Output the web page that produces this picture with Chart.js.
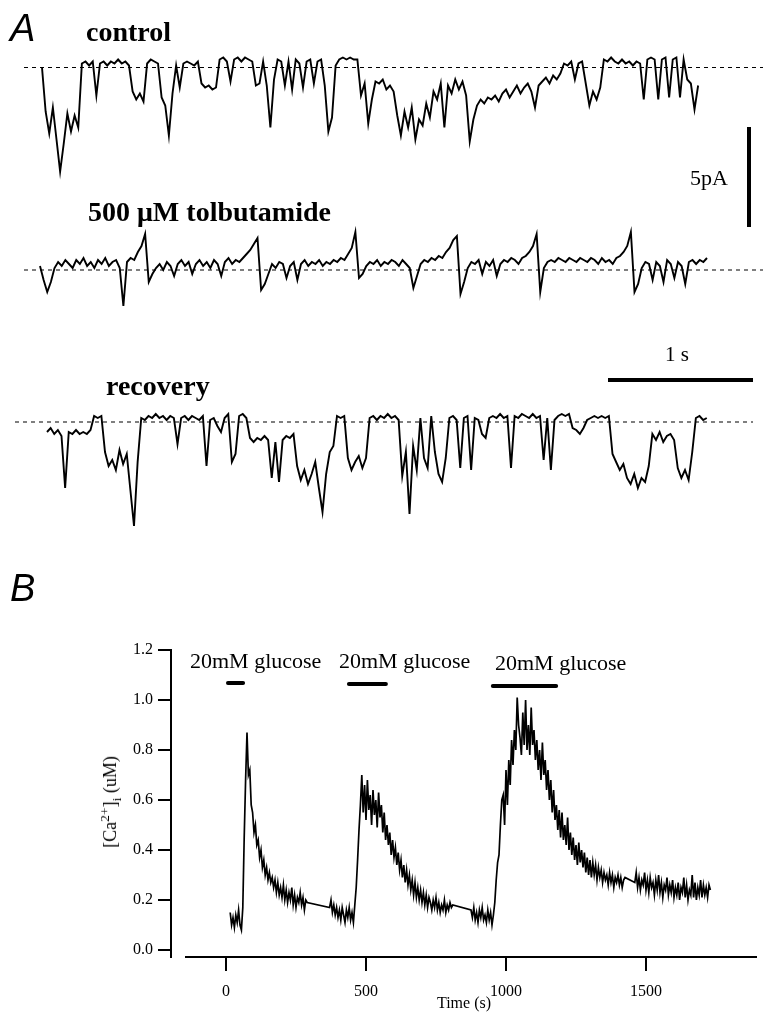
<!DOCTYPE html>
<html>
<head>
<meta charset="utf-8">
<script src="https://cdn.jsdelivr.net/npm/chart.js@4.4.1/dist/chart.umd.min.js"></script>
<style>
body{margin:0;background:#fff;width:763px;height:1013px;position:relative;overflow:hidden;font-family:"Liberation Serif",serif;color:#000}
canvas{position:absolute;left:0}
.lbl{position:absolute;white-space:nowrap;line-height:1}
.sans{font-family:"Liberation Sans",sans-serif;font-style:italic}
.bold{font-weight:bold}
#ytitle{position:absolute;left:110px;top:802px;font-size:18px;white-space:nowrap;line-height:1;transform:translate(-50%,-50%) rotate(-90deg)}
#ytitle sup,#ytitle sub{font-size:0.75em;line-height:0}
</style>
</head>
<body>
<canvas id="controlChart" width="763" height="195" style="top:40px"></canvas>
<canvas id="tolbChart" width="763" height="130" style="top:200px"></canvas>
<canvas id="recoveryChart" width="763" height="200" style="top:340px"></canvas>
<canvas id="caChart" width="763" height="413" style="top:600px"></canvas>

<div class="lbl sans" style="left:10px;top:9px;font-size:38px">A</div>
<div class="lbl bold" style="left:86px;top:18px;font-size:28px">control</div>
<div class="lbl bold" style="left:88px;top:198px;font-size:28px">500 μM tolbutamide</div>
<div class="lbl bold" style="left:106px;top:372px;font-size:28px">recovery</div>
<div class="lbl" style="left:690px;top:167px;font-size:22px">5pA</div>
<div class="lbl" style="left:665px;top:344px;font-size:21px">1 s</div>
<div class="lbl sans" style="left:10px;top:569px;font-size:38px">B</div>
<div class="lbl" style="left:190px;top:650px;font-size:22px">20mM glucose</div>
<div class="lbl" style="left:339px;top:650px;font-size:22px">20mM glucose</div>
<div class="lbl" style="left:495px;top:652px;font-size:22px">20mM glucose</div>
<div id="ytitle">[Ca<sup>2+</sup>]<sub>i</sub> (uM)</div>

<script>
// panel A: single channel currents (pA), sampled every 0.025 s
const sampleStep=0.025;

const controlCurrent=[
0.0,-2.2,-3.3,-2.0,-3.6,-5.2,-3.8,-2.3,-3.2,-2.4,
-3.0,0.2,0.3,0.1,0.3,-1.4,0.2,0.3,0.1,0.3,
0.2,0.4,0.2,0.3,0.1,-1.2,-1.6,-1.3,-1.7,0.2,
0.4,0.3,0.2,-1.5,-1.9,-3.4,-1.3,0.1,-1.0,0.2,
0.3,0.2,0.1,0.3,-0.8,-1.0,-0.9,-1.1,-1.0,0.4,
0.5,0.3,-0.7,0.4,0.5,0.3,0.5,0.4,0.3,-0.9,
-0.8,0.3,-0.9,-3.0,-0.6,0.4,0.3,-0.9,0.3,-1.1,
0.4,0.2,-1.0,0.3,0.4,-0.8,0.3,0.4,-0.9,-3.2,
-2.5,0.1,0.4,0.5,0.4,0.5,0.4,0.4,-1.4,-0.8,
-2.8,-1.6,-0.7,-0.8,-0.6,-1.1,-0.9,-1.2,-2.4,-3.4,
-2.2,-3.0,-2.0,-3.6,-2.6,-2.9,-1.8,-2.5,-1.2,-1.6,
-0.8,-3.0,-0.9,-1.3,-0.6,-1.1,-0.7,-1.4,-3.7,-2.6,
-1.9,-1.6,-1.8,-1.5,-1.6,-1.4,-1.7,-1.3,-1.1,-1.5,
-1.2,-0.9,-1.3,-1.0,-0.8,-1.2,-2.0,-0.9,-0.7,-0.5,
-0.8,-0.4,-0.6,-0.3,0.2,0.1,0.3,-0.6,0.2,0.3,
-0.8,-1.9,-1.2,-1.6,-1.0,0.4,0.3,0.5,0.3,0.2,
0.4,0.2,0.3,0.1,0.3,0.2,-1.6,0.4,0.5,0.4,
-1.6,0.4,0.5,-1.5,0.4,0.5,-1.5,0.4,-0.6,-0.8,
-2.1,-0.9];

const tolbutamideCurrent=[
0.2,-0.5,-1.1,-0.6,0.1,0.4,0.2,0.5,0.3,0.1,
0.5,0.3,0.6,0.2,0.4,0.1,0.5,0.3,0.6,0.2,
0.4,0.5,0.1,-1.8,0.4,0.6,0.5,0.9,1.2,1.8,
-0.6,-0.2,0.1,0.3,0.0,0.4,0.2,-0.3,0.3,0.5,
0.2,0.4,-0.2,0.3,0.5,0.2,0.4,0.1,0.5,0.3,
-0.3,0.4,0.6,0.3,0.5,0.4,0.6,0.8,1.0,1.3,
1.6,-1.0,-0.7,-0.2,0.3,0.1,0.4,0.3,-0.4,0.2,
0.4,-0.5,0.3,0.5,0.2,0.4,0.3,0.5,0.2,0.4,
0.3,0.5,0.4,0.6,0.5,0.8,1.1,1.9,-0.4,-0.2,
0.2,0.4,0.3,0.5,0.2,0.4,0.3,0.5,0.4,0.2,
0.5,0.3,0.1,-0.9,-0.3,0.3,0.5,0.4,0.6,0.5,
0.7,0.6,0.9,1.1,1.5,1.7,-1.2,-0.6,0.1,0.4,
0.3,0.5,-0.2,0.4,0.2,0.5,-0.3,0.3,0.5,0.4,
0.6,0.5,0.3,0.6,0.7,0.9,1.2,1.8,-1.1,0.1,
0.4,0.5,0.4,0.6,0.5,0.4,0.6,0.5,0.4,0.6,
0.5,0.4,0.6,0.5,0.3,0.6,0.4,0.5,0.3,0.6,
0.7,0.9,1.2,1.9,-1.1,-0.7,0.1,0.4,0.3,-0.5,
0.4,0.2,-0.6,0.5,0.3,-0.4,0.4,0.2,-0.7,0.4,
0.5,0.3,0.5,0.4,0.6];

const recoveryCurrent=[
-0.5,-0.3,-0.6,-0.4,-0.7,-3.3,-0.5,-0.6,-0.4,-0.6,
-0.5,-0.6,-0.4,0.3,0.2,0.3,-1.5,-2.2,-1.9,-2.4,
-1.4,-2.1,-1.6,-3.4,-5.2,-2.0,0.2,0.1,0.3,0.2,
0.4,0.2,0.3,0.1,0.3,0.2,-1.1,0.2,0.3,0.1,
0.3,0.2,0.1,0.3,-2.2,0.1,0.2,-0.2,-0.5,0.2,
0.4,-2.0,-1.6,0.3,0.4,0.2,-0.8,-1.0,-0.8,-0.9,
-0.7,-0.9,-2.8,-1.0,-3.0,-0.9,-0.7,-0.8,-0.6,-2.2,
-2.9,-2.4,-3.1,-2.6,-2.0,-3.3,-4.5,-2.6,-1.5,-1.2,
0.3,0.2,0.3,-1.8,-2.4,-2.0,-1.7,-2.3,-1.8,0.2,
0.3,0.1,0.3,0.2,0.4,0.2,0.3,0.1,-2.7,-1.5,
-4.6,-1.2,-2.4,0.2,-1.8,-2.3,0.3,-1.5,-2.6,-3.0,
-1.8,0.2,0.3,0.1,-2.3,0.2,0.3,-2.4,0.2,0.1,
-0.6,-0.8,0.2,0.3,0.2,0.4,0.2,0.3,-2.3,0.3,
0.2,0.4,0.3,0.2,0.4,0.2,0.3,-1.9,0.2,-2.4,
0.1,0.3,0.4,0.3,0.4,-0.3,-0.4,-0.6,-0.3,0.1,
0.2,0.3,0.2,0.3,0.2,0.3,-1.6,-2.0,-2.4,-2.1,
-2.8,-3.1,-2.6,-3.3,-2.8,-3.0,-2.2,-0.6,-0.9,-0.5,
-1.0,-0.7,-0.6,-0.9,-2.3,-2.8,-2.4,-2.9,-1.5,0.2,
0.3,0.1,0.2];

const scaleBarCurrent=5; // pA
const scaleBarTime=1;    // s

// panel B: [Ca2+]i (uM), sampled every 5 s from 15 s; null = no data
const caStart=15;
const caStep=5;
const caConc=[
0.15,0.10,0.13,0.09,0.14,0.11,0.16,0.10,0.08,0.17,
0.45,0.68,0.87,0.70,0.72,0.58,0.55,0.47,0.50,0.42,
0.44,0.37,0.40,0.33,0.36,0.30,0.33,0.28,0.31,0.27,
0.29,0.25,0.28,0.23,0.27,0.22,0.25,0.21,0.26,0.20,
0.24,0.19,0.23,0.20,0.25,0.18,0.22,0.17,0.21,0.19,
0.23,0.18,0.21,0.16,0.20,0.19,
null,null,null,null,null,null,null,null,null,null,null,null,null,null,null,
0.17,0.20,0.15,0.18,0.14,0.17,0.13,0.16,0.12,0.17,
0.14,0.11,0.16,0.13,0.17,0.12,0.15,0.11,0.18,
0.25,0.36,0.48,0.58,0.70,0.55,0.66,0.52,0.68,0.56,
0.62,0.50,0.64,0.54,0.60,0.49,0.63,0.53,0.58,0.47,
0.55,0.44,0.50,0.42,0.47,0.38,0.44,0.37,0.41,0.34,
0.39,0.32,0.36,0.29,0.34,0.27,0.32,0.26,0.30,0.24,
0.28,0.22,0.27,0.21,0.25,0.20,0.24,0.19,0.23,0.18,
0.22,0.17,0.21,0.19,0.16,0.20,0.17,0.21,0.16,0.19,
0.15,0.18,0.16,0.20,0.15,0.18,0.16,0.19,0.17,0.18,
null,null,null,null,null,null,null,null,null,null,null,null,
0.16,0.13,0.17,0.12,0.15,0.11,0.16,0.13,0.17,0.12,
0.14,0.11,0.16,0.12,0.15,0.10,0.14,0.19,
0.28,0.35,0.38,0.50,0.60,0.62,0.50,0.72,0.58,0.76,
0.66,0.84,0.74,0.88,0.80,1.01,0.90,0.85,0.78,0.95,
0.82,1.00,0.80,0.90,0.78,0.97,0.82,0.88,0.76,0.84,
0.72,0.80,0.68,0.83,0.70,0.76,0.64,0.72,0.60,0.68,
0.55,0.64,0.52,0.58,0.48,0.56,0.45,0.55,0.44,0.50,
0.42,0.53,0.40,0.47,0.38,0.45,0.36,0.42,0.34,0.43,
0.35,0.40,0.33,0.39,0.31,0.37,0.30,0.36,0.29,0.35,
0.30,0.34,0.28,0.33,0.29,0.32,0.27,0.31,0.28,0.30,
0.26,0.31,0.27,0.30,0.25,0.29,0.27,0.30,0.26,0.29,
0.25,0.28,0.29,
null,null,null,null,null,null,
0.27,0.31,0.25,0.29,0.24,0.28,0.26,0.31,0.24,0.28,
0.23,0.29,0.25,0.27,0.22,0.28,0.24,0.30,0.23,0.27,
0.21,0.26,0.24,0.29,0.22,0.26,0.23,0.28,0.21,0.25,
0.22,0.27,0.20,0.25,0.23,0.29,0.21,0.26,0.20,0.24,
0.22,0.30,0.21,0.27,0.20,0.25,0.22,0.28,0.21,0.26,
0.22,0.25,0.21,0.26,0.24];

const glucoseOn=[7,439,953];   // s
const glucoseOff=[61,571,1179];
const caTicks=[0,0.2,0.4,0.6,0.8,1.0,1.2];
const timeTicks=[0,500,1000,1500];

// ---- layout (pixels) ----
const pxPerSec=145, pxPerPA=20;
const traceLayout={
  control:{top:40,height:195,t0:42,base:67.5,dashFrom:24,dashTo:763},
  tolb:{top:200,height:130,t0:40,base:270,dashFrom:24,dashTo:763},
  recovery:{top:340,height:200,t0:47,base:422,dashFrom:15,dashTo:753}
};
const W=763;

function series(values,start,step){
  return values.map((v,i)=>({x:start+i*step,y:v}));
}

function traceChart(id,values,lay,extra){
  const xmin=-lay.t0/pxPerSec, xmax=(W-lay.t0)/pxPerSec;
  const ymax=(lay.base-lay.top)/pxPerPA, ymin=(lay.base-lay.top-lay.height)/pxPerPA;
  const toT=px=>(px-lay.t0)/pxPerSec;
  const datasets=[
    {data:[{x:toT(lay.dashFrom),y:0},{x:toT(lay.dashTo),y:0}],borderColor:'#000',borderWidth:1,borderDash:[4,4]},
    {data:series(values,0,sampleStep),borderColor:'#000',borderWidth:1.9}
  ];
  if(extra) datasets.push(...extra(toT,lay));
  return new Chart(document.getElementById(id),{
    type:'line',
    data:{datasets},
    options:{
      responsive:false,animation:false,events:[],
      layout:{padding:0},
      elements:{point:{radius:0},line:{tension:0}},
      plugins:{legend:{display:false},tooltip:{enabled:false}},
      scales:{
        x:{type:'linear',display:false,min:xmin,max:xmax},
        y:{type:'linear',display:false,min:ymin,max:ymax}
      }
    }
  });
}

// 5 pA bar sits in the control chart, 1 s bar in the recovery chart
traceChart('controlChart',controlCurrent,traceLayout.control,(toT,lay)=>{
  const top=(lay.base-127)/pxPerPA;
  return [{data:[{x:toT(749),y:top},{x:toT(749),y:top-scaleBarCurrent}],borderColor:'#000',borderWidth:4}];
});
traceChart('tolbChart',tolbutamideCurrent,traceLayout.tolb);
traceChart('recoveryChart',recoveryCurrent,traceLayout.recovery,(toT,lay)=>{
  const y=(lay.base-380)/pxPerPA, end=toT(753);
  return [{data:[{x:end-scaleBarTime,y:y},{x:end,y:y}],borderColor:'#000',borderWidth:4}];
});

// ---- panel B ----
const caLayout={left:171,right:757,top:650,bottom:957,zeroX:226,zeroY:950,pxPerSecB:0.28,pxPerUM:250,axisFrom:185,canvasTop:600,canvasH:413};
const barY=[683,684,686];

const bx=px=>(px-caLayout.zeroX)/caLayout.pxPerSecB;
const by=px=>(caLayout.zeroY-px)/caLayout.pxPerUM;

const glucoseSets=glucoseOn.map((t,i)=>({
  data:[{x:t,y:by(barY[i])},{x:glucoseOff[i],y:by(barY[i])}],
  borderColor:'#000',borderWidth:4,borderCapStyle:'round'
}));

const xAxisLine={
  id:'xAxisLine',
  afterDraw(chart){
    const {ctx,chartArea,scales}=chart;
    ctx.save();
    ctx.strokeStyle='#000';
    ctx.lineWidth=2;
    ctx.beginPath();
    ctx.moveTo(scales.x.getPixelForValue(bx(caLayout.axisFrom)),chartArea.bottom);
    ctx.lineTo(chartArea.right,chartArea.bottom);
    ctx.stroke();
    ctx.restore();
  }
};

const serif={family:'Liberation Serif',size:16};

new Chart(document.getElementById('caChart'),{
  type:'line',
  data:{datasets:[
    {data:series(caConc,caStart,caStep),borderColor:'#000',borderWidth:1.7,spanGaps:true},
    ...glucoseSets
  ]},
  options:{
    responsive:false,animation:false,events:[],
    layout:{padding:{top:caLayout.top-caLayout.canvasTop,right:W-caLayout.right,left:0,bottom:0}},
    elements:{point:{radius:0},line:{tension:0}},
    plugins:{legend:{display:false},tooltip:{enabled:false}},
    scales:{
      x:{
        type:'linear',
        min:bx(caLayout.left),max:bx(caLayout.right),
        afterBuildTicks:s=>{s.ticks=timeTicks.map(v=>({value:v}));},
        afterFit:s=>{s.height=caLayout.canvasTop+caLayout.canvasH-caLayout.bottom;},
        border:{display:false},
        grid:{drawOnChartArea:false,drawTicks:true,tickLength:14,color:'#000',lineWidth:2},
        ticks:{font:serif,color:'#000',padding:11,maxRotation:0,callback:v=>String(v)},
        title:{display:true,text:'Time (s)',font:serif,color:'#000',padding:0}
      },
      y:{
        type:'linear',
        min:by(caLayout.bottom),max:by(caLayout.top),
        afterBuildTicks:s=>{s.ticks=caTicks.map(v=>({value:v}));},
        afterFit:s=>{s.width=caLayout.left;},
        border:{display:true,color:'#000',width:2},
        grid:{drawOnChartArea:false,drawTicks:true,tickLength:13,color:'#000',lineWidth:2},
        ticks:{font:serif,color:'#000',padding:5,callback:v=>v.toFixed(1)}
      }
    }
  },
  plugins:[xAxisLine]
});
</script>
</body>
</html>
